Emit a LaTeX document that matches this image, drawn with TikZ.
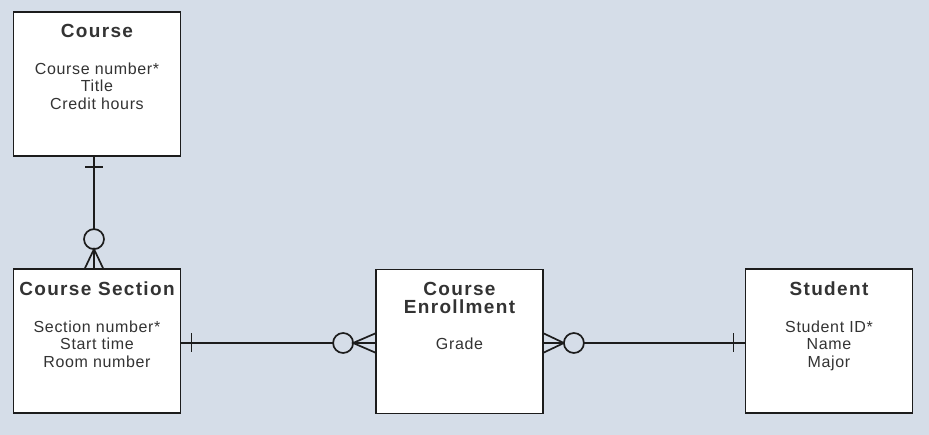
\documentclass[tikz,border=0pt]{standalone}
\usepackage{fontspec}
\setmainfont{Liberation Sans}
\newfontfamily\headfont[LetterSpace=7]{Liberation Sans}
\newfontfamily\bodyfont[LetterSpace=4]{Liberation Sans}
\usetikzlibrary{calc}
\definecolor{bg}{RGB}{213,221,232}
\definecolor{ink}{RGB}{28,28,28}
\newcommand{\ename}[1]{{\headfont\bfseries\fontsize{19}{19}\selectfont #1}}

\begin{document}
\begin{tikzpicture}[x=1pt,y=-1pt,
  entity/.style={draw=ink,fill=white,line width=1.8pt,minimum width=167pt,minimum height=144pt,inner sep=0pt},
  info/.style={anchor=base,align=center,inner sep=0pt,text=ink!90,font=\bodyfont\fontsize{16}{17.5}\selectfont},
  link/.style={draw=ink,line width=1.7pt}]

\fill[bg] (0,0) rectangle (929,435);
\useasboundingbox (0,0) rectangle (929,435);

% entities
\node[entity] (course) at (97,84) {};
\node[entity] (section) at (97,341) {};
\node[entity] (enroll) at (459.5,341.5) {};
\node[entity] (student) at (829,341) {};

% base is the last line, so offsets go to the bottom line
\node[info] (coursetxt) at ($(course.north)+(0,98)$) {\ename{Course}\\[19pt]Course number*\\Title\\Credit hours};
\node[info] (sectiontxt) at ($(section.north)+(0,99)$) {\ename{Course Section}\\[19pt]Section number*\\Start time\\Room number};
\node[info] (enrolltxt) at ($(enroll.north)+(0,81)$) {\ename{Course}\\[0.5pt]\ename{Enrollment}\\[19pt]Grade};
\node[info] (studenttxt) at ($(student.north)+(0,99)$) {\ename{Student}\\[19pt]Student ID*\\Name\\Major};

% course -- section
\coordinate (c1) at ($(course.south)+(-3,0)$);
\coordinate (c2) at ($(section.north)+(-3,0)$);
\draw[link] (c1) -- (c2);
\draw[link] ($(c1)+(-9,10)$) -- ++(18,0);
\draw[link,fill=bg] ($(c2)+(0,-29)$) circle (10pt);
\draw[link] ($(c2)+(-9,0)$) -- ($(c2)+(0,-19)$) -- ($(c2)+(9,0)$);

% section -- enrollment
\coordinate (s1) at ($(section.east)+(0,2)$);
\coordinate (s2) at ($(enroll.west)+(0,1.5)$);
\draw[link] (s1) -- (s2);
\draw[link] ($(s1)+(10,-9.5)$) -- ++(0,19);
\draw[link,fill=bg] ($(s2)+(-32,0)$) circle (10pt);
\draw[link] ($(s2)+(0,-9.5)$) -- ($(s2)+(-22,0)$) -- ($(s2)+(0,9.5)$);

% enrollment -- student
\coordinate (e1) at ($(enroll.east)+(0,1.5)$);
\coordinate (e2) at ($(student.west)+(0,2)$);
\draw[link] (e1) -- (e2);
\draw[link] ($(e1)+(0,-9.5)$) -- ($(e1)+(20,0)$) -- ($(e1)+(0,9.5)$);
\draw[link,fill=bg] ($(e1)+(30,0)$) circle (10pt);
\draw[link] ($(e2)+(-11,-9.5)$) -- ++(0,19);

\end{tikzpicture}
\end{document}
